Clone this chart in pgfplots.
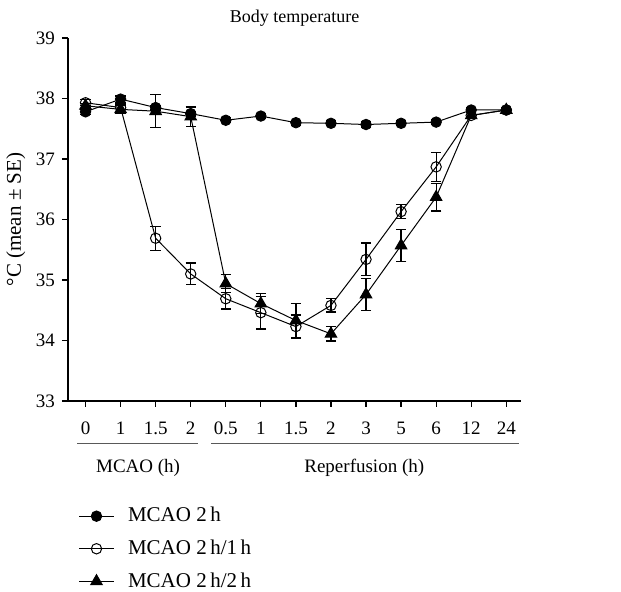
\documentclass[border=0pt]{standalone}
\usepackage{fontspec}
\setmainfont{Liberation Serif}
\usepackage{pgfplots}
\pgfplotsset{compat=1.18}
\usepackage{pgfplotstable}

% x = position of the time point (0..12), y = mean, e = SE
\pgfplotstableread{
x y e
0 37.78 0.04
1 37.99 0.05
2 37.85 0.04
3 37.75 0.04
4 37.64 0.04
5 37.71 0.04
6 37.60 0.04
7 37.59 0.04
8 37.57 0.04
9 37.59 0.04
10 37.61 0.04
11 37.81 0.04
12 37.81 0.04
}\mcaoA
\pgfplotstableread{
x y e
0 37.93 0.05
1 37.85 0.06
2 35.69 0.20
3 35.10 0.18
4 34.69 0.17
5 34.46 0.27
6 34.23 0.19
7 34.58 0.11
8 35.34 0.27
9 36.13 0.12
10 36.87 0.24
11 37.72 0.05
12 37.81 0.04
}\mcaoB
\pgfplotstableread{
x y e
0 37.88 0.04
1 37.82 0.06
2 37.79 0.27
3 37.70 0.16
4 34.94 0.15
5 34.61 0.17
6 34.33 0.28
7 34.11 0.12
8 34.76 0.27
9 35.57 0.26
10 36.37 0.23
11 37.72 0.05
12 37.81 0.04
}\mcaoC

\begin{document}
\begin{tikzpicture}
\useasboundingbox (0,0) rectangle (310.5pt,296pt);
\begin{axis}[
  at={(34pt,95.5pt)}, anchor=south west,
  scale only axis, width=226.5pt, height=181.5pt,
  font=\fontsize{9.5}{11}\selectfont,
  axis x line*=bottom, axis y line*=left,
  axis line style={line width=0.6pt},
  xmin=-0.5, xmax=12.42, ymin=33, ymax=39,
  xtick={0,...,12},
  xticklabels={0,1,1.5,2,0.5,1,1.5,2,3,5,6,12,24},
  xticklabel style={yshift=-4pt},
  ytick={33,...,39},
  tick align=outside, major tick length=3pt,
  tick style={black, line width=0.6pt},
  /pgf/number format/assume math mode=true,
  clip=false,
  title={Body temperature},
  title style={at={(axis description cs:0.5,1)}, anchor=base, yshift=1.5pt,
    font=\fontsize{9}{11}\selectfont},
  ylabel={°C (mean ± SE)},
  ylabel style={at={(axis description cs:-0.115,0.5)}, anchor=center,
    font=\fontsize{10.5}{12}\selectfont},
  reverse legend,
  legend cell align=left,
  legend style={at={(axis description cs:0.01,-0.27)}, anchor=north west,
    draw=none, fill=none, row sep=3.5pt, font=\fontsize{10.5}{12}\selectfont,
    /tikz/every odd column/.append style={column sep=5pt}},
  every axis plot/.append style={black, line width=0.5pt},
  error bars/error bar style={line width=0.6pt, black},
  error bars/error mark options={rotate=90, mark size=2.6pt, line width=0.6pt, black},
]
\addplot[mark=triangle*, mark size=3.3pt, mark options={fill=black}]
  plot [error bars/.cd, y dir=both, y explicit]
  table[x=x, y=y, y error=e] {\mcaoC};
\addlegendentry{MCAO 2\,h/2\,h}
\addplot[mark=o, mark size=2.6pt, mark options={fill=white}]
  plot [error bars/.cd, y dir=both, y explicit]
  table[x=x, y=y, y error=e] {\mcaoB};
\addlegendentry{MCAO 2\,h/1\,h}
\addplot[mark=*, mark size=2.6pt, mark options={fill=black}]
  plot [error bars/.cd, y dir=both, y explicit]
  table[x=x, y=y, y error=e] {\mcaoA};
\addlegendentry{MCAO 2\,h}

% group lines under the tick labels
\draw[black!65, line width=0.7pt] (axis cs:-0.23,32.30) -- (axis cs:3.22,32.30);
\draw[black!65, line width=0.7pt] (axis cs:3.59,32.30) -- (axis cs:12.35,32.30);
\node[font=\fontsize{9.5}{11}\selectfont] at (axis cs:1.5,31.90) {MCAO (h)};
\node[font=\fontsize{9.5}{11}\selectfont] at (axis cs:7.95,31.90) {Reperfusion (h)};
\end{axis}
\end{tikzpicture}
\end{document}
